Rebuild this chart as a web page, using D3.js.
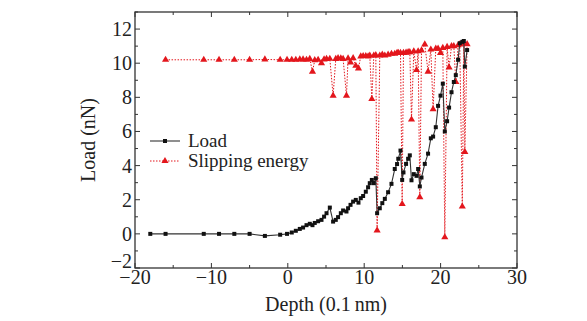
<!DOCTYPE html>
<html>
<head>
<meta charset="utf-8">
<script src="https://cdn.jsdelivr.net/npm/d3@7"></script>
<style>
  body { margin: 0; background: #fff; }
  text { font-family: "Liberation Serif", "Times New Roman", serif; fill: #222; }
</style>
</head>
<body>
<div id="chart"></div>
<script>
// depth (0.1 nm), shared by both series
const depth = [-18.0, -16.0, -11.0, -9.0, -7.0, -5.0, -3.0, -1.0, -0.1,
  0.52, 1.05, 1.57, 2.0, 2.45, 2.88, 3.23, 3.53, 3.97, 4.41, 4.75, 5.07, 5.5,
  5.93, 6.28, 6.58, 6.94, 7.24, 7.68, 7.89, 8.21, 8.55, 8.9, 9.25, 9.55, 9.86,
  10.21, 10.51, 10.73, 11.0, 11.26, 11.52, 11.69, 12.04, 12.37, 12.7, 13.13,
  13.57, 14.0, 14.3, 14.46, 14.75, 14.97, 15.14, 15.48, 15.75, 15.97, 16.19,
  16.49, 16.85, 17.06, 17.28, 17.5, 17.93, 18.36, 18.72, 19.02, 19.37, 19.67,
  19.99, 20.29, 20.55, 20.85, 21.11, 21.43, 21.73, 21.99, 22.29, 22.51, 22.84,
  23.04, 23.17, 23.47];

// load (nN)
const load = [0, 0, 0, 0, 0, 0, -0.12, -0.05, 0,
  0.08, 0.18, 0.29, 0.37, 0.51, 0.59, 0.51, 0.64, 0.74, 0.82, 1.01, 1.21, 1.54,
  0.72, 0.82, 0.98, 1.21, 1.37, 1.31, 1.5, 1.7, 1.89, 1.99, 1.83, 2.09, 2.22,
  2.47, 2.73, 2.97, 3.16, 2.97, 3.26, 1.21, 1.5, 1.8, 2.05, 2.44,
  2.93, 3.8, 4.09, 4.4, 4.88, 3.16, 3.6, 4.1, 4.4, 4.6, 3.14,
  3.5, 3.4, 3.8, 2.78, 3.3, 4.1, 4.7, 5.6, 5.7, 6.25, 7.5,
  8.1, 8.8, 6.0, 6.6, 7.4, 8.3, 8.9, 9.3, 10.2, 11.17, 11.25,
  11.3, 9.8, 10.77];

// slipping energy (same axis), null = no point
const slip = [null, 10.2, 10.2, 10.2, 10.2, 10.2, 10.22, 10.2, 10.2,
  10.2, 10.2, 10.22, 10.22, 10.2, 10.25, 9.5, 10.18, 10.2, 10.0, 10.22, 10.25, 10.26,
  8.1, 10.25, 10.3, 10.28, 10.25, 8.1, 10.28, 10.05, 10.3, 9.85, 9.7, 10.4, 10.42,
  10.42, 10.4, 10.45, 7.9, 10.45, 10.47, 0.2, 10.45, 10.5, 10.45, 10.5,
  10.55, 10.55, 10.6, 10.6, 10.6, 1.75, 10.6, 10.62, 10.65, 10.65, 6.7,
  10.7, 9.6, 10.7, 2.15, 10.75, 11.1, 9.5, 10.8, 7.3, 10.85, 10.85,
  10.6, 10.9, -0.2, 10.95, 9.75, 11.0, 11.0, 8.9, 11.05, 11.1, 1.6,
  11.15, 4.8, 11.12];

const xTicks = [-20, -10, 0, 10, 20, 30];
const yTicks = [-2, 0, 2, 4, 6, 8, 10, 12];

const W = 587, H = 321;
const x = d3.scaleLinear().domain([-20, 30]).range([135, 517]);
const y = d3.scaleLinear().domain([-2, 13]).range([268, 12]);

const svg = d3.select('#chart').append('svg')
  .attr('width', W).attr('height', H);

const red = '#e3161c';
const ink = '#333';

// ticks, inward on all four sides
const xMinor = d3.range(-20, 30.1, 5);
const yMinor = d3.range(-2, 13.1, 1);
const tk = svg.append('g').attr('stroke', ink).attr('stroke-width', 1);
xMinor.forEach(v => {
  const len = v % 10 === 0 ? 5 : 3;
  tk.append('line').attr('x1', x(v)).attr('x2', x(v)).attr('y1', y(-2)).attr('y2', y(-2) - len);
  tk.append('line').attr('x1', x(v)).attr('x2', x(v)).attr('y1', y(13)).attr('y2', y(13) + len);
});
yMinor.forEach(v => {
  const len = v % 2 === 0 ? 5 : 3;
  tk.append('line').attr('y1', y(v)).attr('y2', y(v)).attr('x1', x(-20)).attr('x2', x(-20) + len);
  tk.append('line').attr('y1', y(v)).attr('y2', y(v)).attr('x1', x(30)).attr('x2', x(30) - len);
});

// frame
svg.append('rect')
  .attr('x', x(-20)).attr('y', y(13))
  .attr('width', x(30) - x(-20)).attr('height', y(-2) - y(13))
  .attr('fill', 'none').attr('stroke', ink).attr('stroke-width', 1.3);

// tick labels
const minus = v => v < 0 ? '\u2212' + Math.abs(v) : String(v);
svg.append('g').selectAll('text').data(xTicks).join('text')
  .attr('x', d => x(d)).attr('y', 284)
  .attr('text-anchor', 'middle').attr('font-size', 20)
  .text(minus);
// the -2 label sits a little higher, as in the original
svg.append('g').selectAll('text').data(yTicks).join('text')
  .attr('x', 132).attr('y', d => y(d) + (d === -2 ? 0 : 7))
  .attr('text-anchor', 'end').attr('font-size', 20)
  .text(minus);

// axis titles
svg.append('text')
  .attr('x', x(5)).attr('y', 311)
  .attr('text-anchor', 'middle').attr('font-size', 20)
  .text('Depth (0.1\u2009nm)');
svg.append('text')
  .attr('transform', `translate(95,${y(5.5)}) rotate(-90)`)
  .attr('text-anchor', 'middle').attr('font-size', 20)
  .text('Load (nN)');

const loadPts = depth.map((d, i) => [d, load[i]]);
const slipPts = depth.map((d, i) => [d, slip[i]]).filter(p => p[1] !== null);

const line = d3.line().x(p => x(p[0])).y(p => y(p[1]));

// slipping energy
svg.append('path').datum(slipPts)
  .attr('d', line).attr('fill', 'none')
  .attr('stroke', red).attr('stroke-width', 1)
  .attr('stroke-dasharray', '1.5,1.5');
const tri = d3.symbol().type(d3.symbolTriangle).size(22);
svg.append('g').selectAll('path').data(slipPts).join('path')
  .attr('transform', p => `translate(${x(p[0])},${y(p[1])})`)
  .attr('d', tri).attr('fill', red);

// load
svg.append('path').datum(loadPts)
  .attr('d', line).attr('fill', 'none')
  .attr('stroke', '#333').attr('stroke-width', 1.1);
const sq = d3.symbol().type(d3.symbolSquare).size(16);
svg.append('g').selectAll('path').data(loadPts).join('path')
  .attr('transform', p => `translate(${x(p[0])},${y(p[1])})`)
  .attr('d', sq).attr('fill', '#111');

// legend
const lg = svg.append('g');
lg.append('line').attr('x1', 150).attr('x2', 180).attr('y1', 141).attr('y2', 141)
  .attr('stroke', '#333').attr('stroke-width', 1.1);
lg.append('path').attr('transform', 'translate(165,141)').attr('d', sq).attr('fill', '#111');
lg.append('text').attr('x', 188).attr('y', 147).attr('font-size', 19).text('Load');
lg.append('line').attr('x1', 150).attr('x2', 180).attr('y1', 161).attr('y2', 161)
  .attr('stroke', red).attr('stroke-width', 1).attr('stroke-dasharray', '1.5,1.5');
lg.append('path').attr('transform', 'translate(165,161)').attr('d', tri).attr('fill', red);
lg.append('text').attr('x', 188).attr('y', 167).attr('font-size', 19).text('Slipping energy');
</script>
</body>
</html>
